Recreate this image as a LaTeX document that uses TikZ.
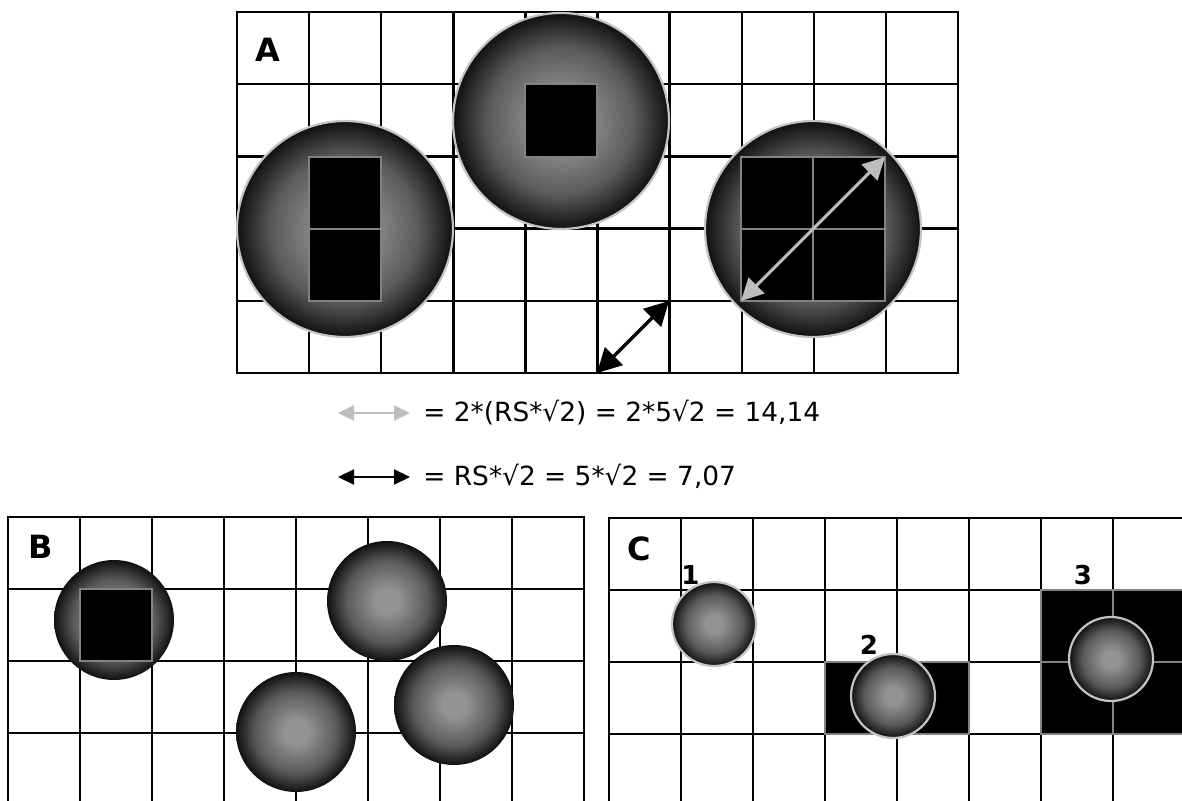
\documentclass[tikz,border=0pt]{standalone}
\usepackage{fontspec}
\setmainfont{DejaVu Sans}
\usepackage{tikz}
\usetikzlibrary{positioning, arrows.meta}
\definecolor{rsrim}{HTML}{101010}
\definecolor{rscore}{HTML}{939393}
\definecolor{rsmid}{HTML}{5A5A5A}
\definecolor{rsedge}{HTML}{C4C4C4}
\definecolor{rscell}{HTML}{828282}
\definecolor{rsarrow}{HTML}{BEBEBE}
\pgfdeclareradialshading{rsball}{\pgfpoint{0bp}{0bp}}{%
  color(0bp)=(rscore); color(5bp)=(rscore); color(17bp)=(rsmid);
  color(25bp)=(rsrim); color(50bp)=(rsrim)}

\begin{document}
\begin{tikzpicture}[
  x=0.5pt, y=-0.5pt,
  gridline/.style={line width=1.2pt, draw=black, line cap=rect},
  ball/.style={circle, inner sep=0pt, shading=rsball},
  rimball/.style={ball, draw=rsedge, line width=1.1pt},
  cellbox/.style={fill=black, draw=rscell, line width=1pt},
  cellline/.style={draw=rscell, line width=1pt},
  panellabel/.style={font=\fontsize{16}{18}\selectfont\bfseries, inner sep=0pt},
  numlabel/.style={font=\fontsize{13}{15}\selectfont\bfseries, inner sep=0pt},
  legtext/.style={font=\fontsize{13.2}{16}\selectfont, inner sep=0pt, anchor=base west},
  graydiag/.style={{Triangle[length=11pt, width=11pt]}-{Triangle[length=11pt, width=11pt]},
    line width=1.5pt, draw=rsarrow},
  blackdiag/.style={{Triangle[length=12pt, width=12.5pt]}-{Triangle[length=12pt, width=12.5pt]},
    line width=1.6pt, draw=black},
  graykey/.style={{Triangle[length=8pt, width=7.5pt]}-{Triangle[length=8pt, width=7.5pt]},
    line width=1.1pt, draw=rsarrow},
  blackkey/.style={{Triangle[length=8pt, width=7.5pt]}-{Triangle[length=8pt, width=7.5pt]},
    line width=1.1pt, draw=black},
]
\useasboundingbox (0,0) rectangle (1182,801);
\clip (0,0) rectangle (1182,801);

% Panel A
\foreach \i in {0,...,10}
  \draw[gridline] ({237+72.1*\i},12) -- ({237+72.1*\i},373);
\foreach \j in {0,...,5}
  \draw[gridline] (237,{12+72.2*\j}) -- (958,{12+72.2*\j});

\node[rimball, minimum size=108pt] (a1) at (345,229) {};
\node[rimball, minimum size=108pt] (a2) at (561,121) {};
\node[rimball, minimum size=108pt] (a3) at (813,229) {};

\draw[cellbox] (309,157) rectangle (381,301);
\draw[cellline] (309,229) -- (381,229);
\draw[cellbox] (525,84) rectangle (597,157);
\draw[cellbox] (741,157) rectangle (885,301);
\draw[cellline] (813,157) -- (813,301);
\draw[cellline] (741,229) -- (885,229);

\coordinate (g1) at (741,301);
\coordinate (g2) at (885,157);
\draw[graydiag] (g1) -- (g2);
\coordinate (k1) at (597,373);
\coordinate (k2) at (669,301);
\draw[blackdiag] (k1) -- (k2);

\node[panellabel] (labA) at (267.5,50) {A};

% Legende
\coordinate (lg1) at (338,413);
\coordinate (lg2) at (410,413);
\draw[graykey] (lg1) -- (lg2);
\node[legtext] (leg1) at (423,421.5) {= 2*(RS*√2) = 2*5√2 = 14,14};
\coordinate (lk1) at (338,477);
\coordinate (lk2) at (410,477);
\draw[blackkey] (lk1) -- (lk2);
\node[legtext] (leg2) at (423,485.5) {= RS*√2 = 5*√2 = 7,07};

% Panel B
\foreach \i in {0,...,8}
  \draw[gridline] ({8+72*\i},517) -- ({8+72*\i},810);
\foreach \j in {0,...,3}
  \draw[gridline] (8,{517+72*\j}) -- (584,{517+72*\j});

\node[ball, minimum size=60pt] (b1) at (114,620) {};
\draw[cellbox] (80,589) rectangle (152,661);
\node[ball, minimum size=60pt] (b2) at (387,601) {};
\node[ball, minimum size=60pt] (b3) at (296,732) {};
\node[ball, minimum size=60pt] (b4) at (454,705) {};

\node[panellabel] (labB) at (41,546.5) {B};

% Panel C
\foreach \i in {0,...,8}
  \draw[gridline] ({609+72*\i},518) -- ({609+72*\i},810);
\foreach \j in {0,...,3}
  \draw[gridline] (609,{518+72*\j}) -- (1190,{518+72*\j});

\draw[cellbox] (825,662) rectangle (969,734);
\draw[cellbox] (1041,590) rectangle (1185,734);
\draw[cellline] (1113,590) -- (1113,734);
\draw[cellline] (1041,662) -- (1185,662);

\node[rimball, minimum size=42pt] (c1) at (714,624) {};
\node[rimball, minimum size=42pt] (c2) at (893,696) {};
\node[rimball, minimum size=42pt] (c3) at (1111,659) {};

\node[panellabel] (labC) at (639.5,548.5) {C};
\node[numlabel] (n1) at (690.5,575) {1};
\node[numlabel] (n2) at (869,645) {2};
\node[numlabel] (n3) at (1083,575) {3};
\end{tikzpicture}
\end{document}
